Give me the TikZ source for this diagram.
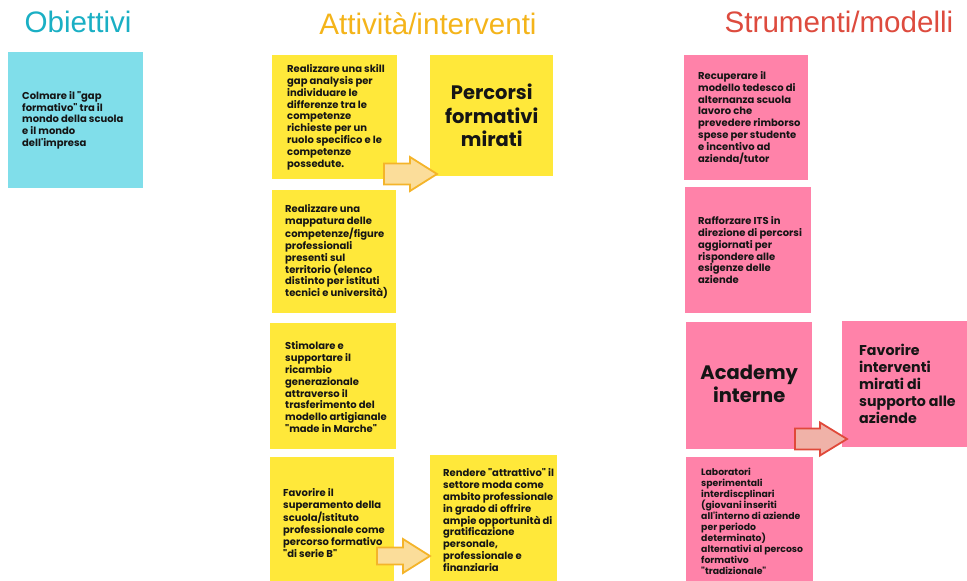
\documentclass[tikz,border=0pt]{standalone}
\usepackage{fontspec}
\setmainfont{Liberation Sans}
\newfontfamily\popf{Poppins}
\begin{document}
\begin{tikzpicture}[x=1pt,y=-1pt,
  box/.style={rectangle, draw=none, inner sep=0pt, anchor=north west},
  bluebox/.style={box, fill=cBlue},
  ybox/.style={box, fill=cYel},
  pbox/.style={box, fill=cPink},
  txt/.style={anchor=west, align=left, inner sep=0pt, text=cTxt, font=\popf\bfseries\fontsize{10}{11.8}\selectfont},
  bigtxt/.style={align=center, inner sep=0pt, text=cTxt, font=\popf\bfseries\fontsize{19.5}{23.5}\selectfont},
  title/.style={inner sep=0pt, font=\fontsize{29.6}{32}\selectfont},
]
\definecolor{cBlue}{HTML}{80DEEA}
\definecolor{cYel}{HTML}{FFE83A}
\definecolor{cPink}{HTML}{FF82A9}
\definecolor{cTxt}{HTML}{151515}
\definecolor{cT1}{HTML}{1AAFC4}
\definecolor{cT2}{HTML}{F4B41A}
\definecolor{cT3}{HTML}{DD4B3E}
\definecolor{cYArF}{HTML}{FBDD9A}
\definecolor{cYArD}{HTML}{F4B42A}
\definecolor{cPArF}{HTML}{F0B2A8}
\definecolor{cPArD}{HTML}{E0493A}
\useasboundingbox (0,0) rectangle (967,581);

% titles
\node[title, text=cT1] (t1) at (78,22) {Obiettivi};
\node[title, text=cT2] (t2) at (428,24) {Attività/interventi};
\node[title, text=cT3] (t3) at (839,22) {Strumenti/modelli};

% boxes
\node[bluebox, minimum width=135pt, minimum height=136pt] (b1) at (8,52) {};
\node[ybox, minimum width=125pt, minimum height=124pt] (y1) at (272,55) {};
\node[ybox, minimum width=123pt, minimum height=121pt] (perc) at (430,55) {};
\node[ybox, minimum width=124pt, minimum height=123pt] (y2) at (272,190) {};
\node[ybox, minimum width=126pt, minimum height=126pt] (y3) at (270,323) {};
\node[ybox, minimum width=124pt, minimum height=124pt] (y4) at (270,457) {};
\node[ybox, minimum width=127pt, minimum height=126pt] (y5) at (430,455) {};
\node[pbox, minimum width=124pt, minimum height=125pt] (p1) at (684,55) {};
\node[pbox, minimum width=126pt, minimum height=126pt] (p2) at (685,187) {};
\node[pbox, minimum width=126pt, minimum height=127pt] (acad) at (686,322) {};
\node[pbox, minimum width=125pt, minimum height=126pt] (fav) at (842,321) {};
\node[pbox, minimum width=127pt, minimum height=124pt] (lab) at (686,457) {};

% texts
\node[txt] (b1t) at ([xshift=14pt]b1.west) {Colmare il "gap\\formativo" tra il\\mondo della scuola\\e il mondo\\dell'impresa};
\node[txt] (y1t) at ([xshift=15pt]y1.west) {Realizzare una skill\\gap analysis per\\individuare le\\differenze tra le\\competenze\\richieste per un\\ruolo specifico e le\\competenze\\possedute.};
\node[bigtxt] (perct) at (perc.center) {Percorsi\\formativi\\mirati};
\node[txt] (y2t) at ([xshift=13pt]y2.west) {Realizzare una\\mappatura delle\\competenze/figure\\professionali\\presenti sul\\territorio (elenco\\distinto per istituti\\tecnici e università)};
\node[txt] (y3t) at ([xshift=15pt,yshift=-1pt]y3.west) {Stimolare e\\supportare il\\ricambio\\generazionale\\attraverso il\\trasferimento del\\modello artigianale\\"made in Marche"};
\node[txt] (y4t) at ([xshift=13pt,yshift=-4pt]y4.west) {Favorire il\\superamento della\\scuola/istituto\\professionale come\\percorso formativo\\"di serie B"};
\node[txt] (y5t) at ([xshift=13pt,yshift=-2pt]y5.west) {Rendere "attrattivo" il\\settore moda come\\ambito professionale\\in grado di offrire\\ampie opportunità di\\gratificazione\\personale,\\professionale e\\finanziaria};
\node[txt] (p1t) at ([xshift=14pt]p1.west) {Recuperare il\\modello tedesco di\\alternanza scuola\\lavoro che\\prevedere rimborso\\spese per studente\\e incentivo ad\\azienda/tutor};
\node[txt] (p2t) at ([xshift=13pt]p2.west) {Rafforzare ITS in\\direzione di percorsi\\aggiornati per\\rispondere alle\\esigenze delle\\aziende};
\node[bigtxt] (acadt) at ([yshift=2pt]acad.center) {Academy\\interne};
\node[txt, font=\popf\bfseries\fontsize{14.2}{17}\selectfont] (favt) at ([xshift=17pt]fav.west) {Favorire\\interventi\\mirati di\\supporto alle\\aziende};
\node[txt, font=\popf\bfseries\fontsize{9.3}{11}\selectfont] (labt) at ([xshift=15pt,yshift=-2pt]lab.west) {Laboratori\\sperimentali\\interdiscplinari\\(giovani inseriti\\all'interno di aziende\\per periodo\\determinato)\\alternativi al percoso\\formativo\\"tradizionale"};

% block arrows: tail x, head base x, tip x, centre y, shaft half, head half
\newcommand{\blockarr}[6]{(#1,#4-#5) -- (#2,#4-#5) -- (#2,#4-#6) -- (#3,#4) -- (#2,#4+#6) -- (#2,#4+#5) -- (#1,#4+#5) -- cycle}
\draw[fill=cYArF, draw=cYArD, line width=1.8pt, line join=miter] \blockarr{384}{410}{437}{174}{10.5}{17};
\draw[fill=cYArF, draw=cYArD, line width=1.8pt, line join=miter] \blockarr{377}{403}{430}{556}{8.5}{17};
\draw[fill=cPArF, draw=cPArD, line width=1.8pt, line join=miter] \blockarr{795}{820}{847}{439}{10.5}{16.5};
\end{tikzpicture}
\end{document}
